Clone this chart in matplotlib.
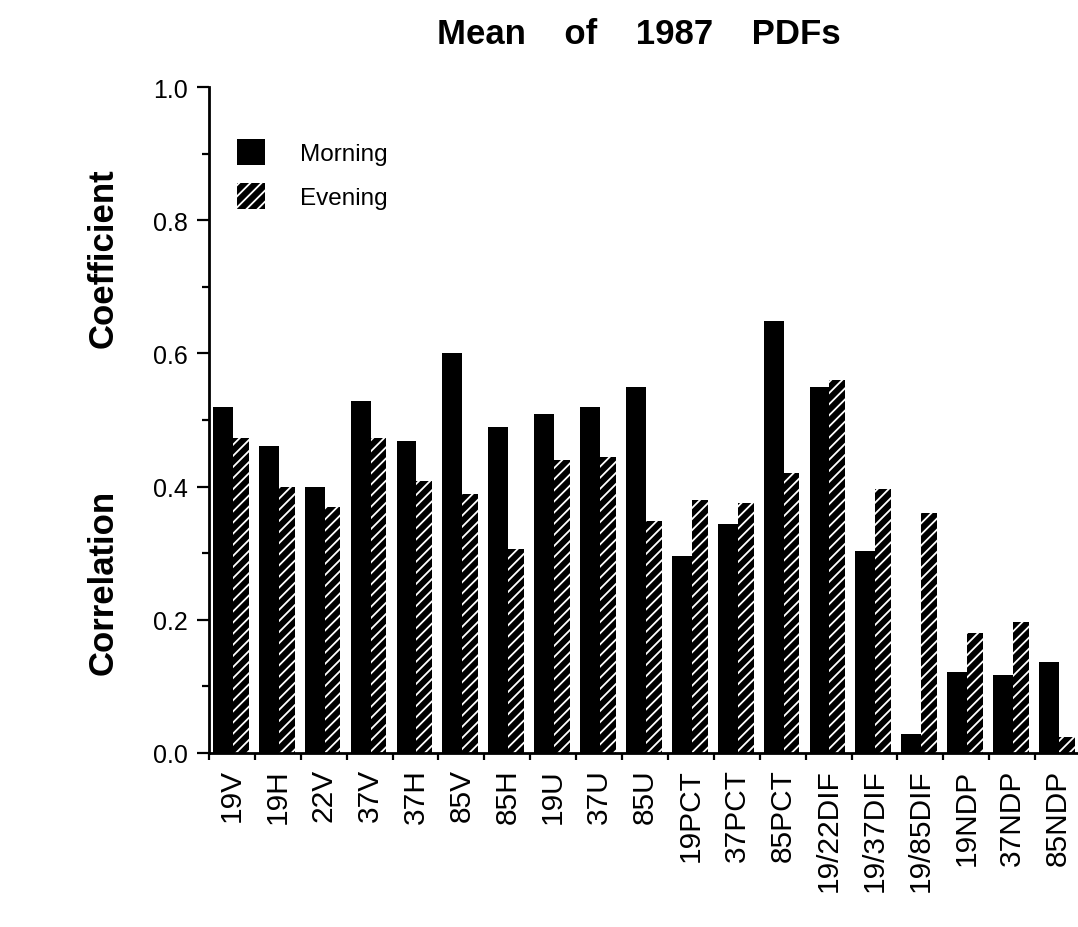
import numpy as np
import matplotlib
matplotlib.use("Agg")
import matplotlib.pyplot as plt

# channel / index names along the x axis
channels = ["19V", "19H", "22V", "37V", "37H", "85V", "85H", "19U", "37U", "85U",
            "19PCT", "37PCT", "85PCT", "19/22DIF", "19/37DIF", "19/85DIF",
            "19NDP", "37NDP", "85NDP"]

# mean correlation coefficients
morning = [0.520, 0.461, 0.400, 0.529, 0.468, 0.600, 0.489, 0.509, 0.519, 0.549,
           0.296, 0.344, 0.648, 0.549, 0.304, 0.028, 0.122, 0.117, 0.137]
evening = [0.473, 0.400, 0.369, 0.473, 0.409, 0.389, 0.306, 0.440, 0.444, 0.348,
           0.380, 0.376, 0.420, 0.560, 0.396, 0.361, 0.180, 0.197, 0.024]

yticks = [0.0, 0.2, 0.4, 0.6, 0.8, 1.0]

plt.rcParams['font.family'] = ['Liberation Sans', 'DejaVu Sans']
plt.rcParams['hatch.linewidth'] = 1.3

W, H = 1078, 928
fig = plt.figure(figsize=(W / 100, H / 100), dpi=100)
ax = fig.add_axes([209 / W, 174 / H, 872 / W, 666 / H])

x = np.arange(len(channels))
ax.bar(x + 0.086, morning, width=0.434, align='edge', color='black',
       linewidth=0, label='Morning')
ax.bar(x + 0.52, evening, width=0.345, align='edge', color='black',
       edgecolor='white', hatch='///', linewidth=0, label='Evening')

ax.set_xlim(0, len(channels))
ax.set_ylim(0, 1.0)

for side in ('top', 'right'):
    ax.spines[side].set_visible(False)
for side in ('left', 'bottom'):
    ax.spines[side].set_linewidth(2.0)

ax.set_yticks(yticks)
ax.set_yticklabels(["%.1f" % v for v in yticks], fontsize=18)
ax.set_yticks(np.arange(0.1, 1.0, 0.2), minor=True)
ax.tick_params(axis='y', which='major', length=9, width=1.6, pad=6)
ax.tick_params(axis='y', which='minor', length=5, width=1.6)

ax.set_xticks(x + 0.5)
ax.set_xticklabels(channels, rotation=90, fontsize=21.5, va='top', ha='center')
ax.set_xticks(np.arange(0, len(channels) + 1), minor=True)
ax.tick_params(axis='x', which='major', length=0, pad=11)
ax.tick_params(axis='x', which='minor', length=5, width=1.6)

ax.legend(loc='upper left', bbox_to_anchor=(28 / 872, 1 - 52 / 666),
          frameon=False, fontsize=17.5, handlelength=1.15, handleheight=1.3,
          labelspacing=0.72, handletextpad=1.45, borderpad=0, borderaxespad=0)

fig.text(639 / W, 1 - 35 / H, "Mean    of    1987    PDFs", fontsize=25,
         fontweight='bold', ha='center', va='center')

fig.text(103 / W, 1 - 258 / H, "Coefficient", fontsize=25, fontweight='bold',
         rotation=90, ha='center', va='center')
fig.text(103 / W, 1 - 582 / H, "Correlation", fontsize=25, fontweight='bold',
         rotation=90, ha='center', va='center')

fig.savefig("out.png", dpi=100)
